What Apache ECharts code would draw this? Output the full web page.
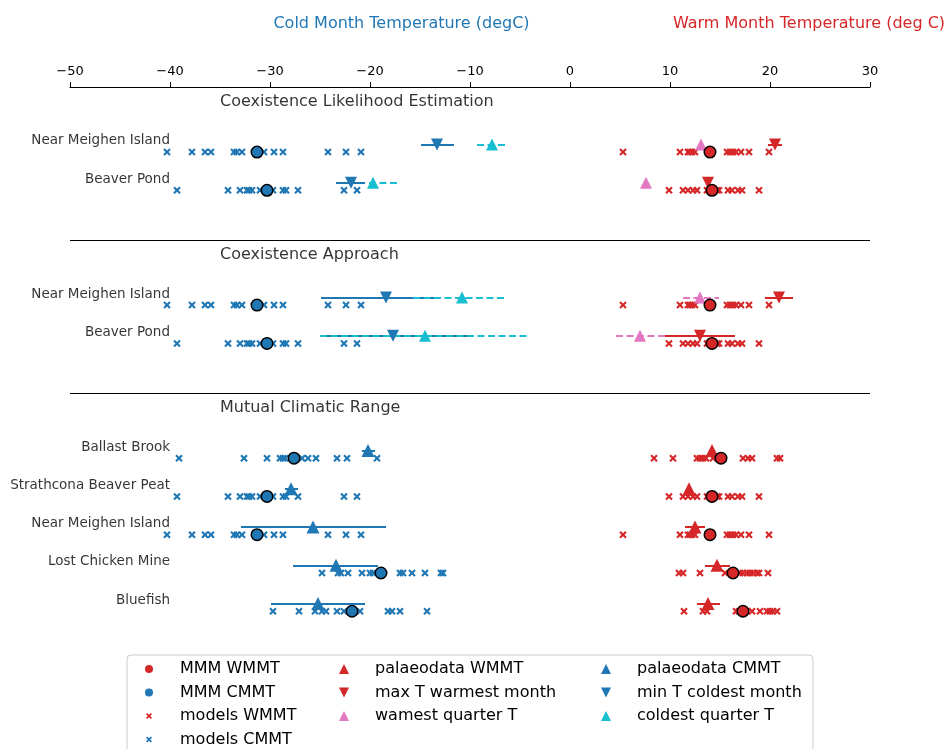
<!DOCTYPE html>
<html><head><meta charset="utf-8">
<script src="https://cdn.jsdelivr.net/npm/echarts@6/dist/echarts.min.js"></script>
<style>html,body{margin:0;padding:0;background:#fff}#c{width:951px;height:749px}</style>
</head><body><div id="c"></div>
<script>
// ---------------- data ----------------
const methods = ['Coexistence Likelihood Estimation', 'Coexistence Approach', 'Mutual Climatic Range'];
const cleSites = ['Near Meighen Island', 'Beaver Pond'];
const caSites = ['Near Meighen Island', 'Beaver Pond'];
const mcrSites = ['Ballast Brook', 'Strathcona Beaver Peat', 'Near Meighen Island', 'Lost Chicken Mine', 'Bluefish'];
const xTickValues = [-50, -40, -30, -20, -10, 0, 10, 20, 30];

const siteNames = ['Near Meighen Island', 'Beaver Pond', 'Ballast Brook', 'Strathcona Beaver Peat', 'Lost Chicken Mine', 'Bluefish'];

// individual model cold month mean temperatures
const cmmtNMI = [-40.3, -37.8, -36.5, -35.9, -33.6, -33.3, -32.8, -30.6, -29.6, -28.7, -24.2, -22.4, -20.9];
const cmmtBP  = [-39.3, -34.2, -33.0, -32.3, -32.1, -31.8, -31.0, -29.7, -28.7, -28.4, -27.2, -22.6, -21.3];
const cmmtBB  = [-39.1, -32.6, -30.3, -29.0, -28.7, -28.5, -26.8, -26.2, -25.4, -23.3, -22.3, -19.3];
const cmmtSBP = [-39.3, -34.2, -33.0, -32.3, -32.1, -31.8, -31.0, -29.7, -28.7, -28.4, -27.2, -22.6, -21.3];
const cmmtLCM = [-24.8, -23.2, -22.9, -22.2, -20.8, -20.0, -19.7, -17.0, -16.7, -15.8, -14.5, -12.9, -12.7];
const cmmtBF  = [-29.7, -27.1, -25.5, -24.8, -24.4, -23.3, -22.6, -21.0, -18.2, -17.8, -17.0, -14.3];
// individual model warm month mean temperatures
const wmmtNMI = [5.3, 11.0, 11.8, 12.0, 12.2, 12.5, 15.7, 16.0, 16.3, 16.6, 17.1, 17.9, 19.9];
const wmmtBP  = [9.9, 11.3, 11.8, 12.3, 12.7, 13.7, 14.7, 14.9, 15.8, 16.2, 16.8, 17.2, 18.9];
const wmmtBB  = [8.4, 10.3, 12.7, 13.0, 13.3, 13.6, 14.3, 17.3, 17.8, 18.2, 20.7, 21.0];
const wmmtSBP = [9.9, 11.3, 11.8, 12.3, 12.7, 13.7, 14.7, 14.9, 15.8, 16.2, 16.8, 17.2, 18.9];
const wmmtLCM = [10.9, 11.3, 13.0, 15.5, 17.0, 17.3, 17.7, 18.0, 18.3, 18.7, 18.9, 19.8];
const wmmtBF  = [11.4, 13.3, 13.7, 16.6, 16.9, 17.7, 18.2, 19.0, 19.7, 20.0, 20.3, 20.7];
// multi-model means (same order as siteNames)
const mmmCMMT = [-31.3, -30.3, -27.6, -30.3, -18.9, -21.8];
const mmmWMMT = [14.0, 14.2, 15.1, 14.2, 16.3, 17.3];

// palaeodata: [estimate, low, high]
const cleMinTCold = [[-13.3, -14.9, -11.6], [-21.9, -23.4, -20.5]];
const cleColdQ    = [[-7.8, -9.3, -6.5], [-19.7, -20.1, -17.3]];
const cleMaxTWarm = [[20.5, 19.8, 21.2], [13.8, null, null]];
const cleWarmQ    = [[13.1, null, null], [7.6, null, null]];
const caMinTCold  = [[-18.4, -24.9, -13.0], [-17.7, -25.0, -10.3]];
const caColdQ     = [[-10.8, -15.7, -6.3], [-14.5, -25.0, -4.0]];
const caMaxTWarm  = [[20.9, 19.5, 22.3], [13.0, 9.5, 16.5]];
const caWarmQ     = [[13.0, 11.3, 14.9], [7.0, 4.6, 9.5]];
const mcrPalaeoCMMT = [[-20.2, -20.8, -19.5], [-27.9, -28.5, -27.2], [-25.7, -32.9, -18.4], [-23.4, -27.7, -19.2], [-25.2, -29.9, -20.5]];
const mcrPalaeoWMMT = [[14.2, null, null], [11.9, null, null], [12.5, 11.5, 13.5], [14.7, 13.5, 16.0], [13.8, 12.7, 15.0]];

// ---------------- layout helpers ----------------
const modelsC = [cmmtNMI, cmmtBP, cmmtBB, cmmtSBP, cmmtLCM, cmmtBF];
const modelsW = [wmmtNMI, wmmtBP, wmmtBB, wmmtSBP, wmmtLCM, wmmtBF];
const sections = [[methods[0], cleSites], [methods[1], caSites], [methods[2], mcrSites]];
const starts = [];
let acc = 0;
sections.forEach(([t, sites]) => { starts.push(acc); acc += sites.length + 2; });
const MARK_OFF = -0.2, LABEL_OFF = -0.29, TITLE_OFF = -1.31, DIV_OFF = 0.3;
const rowOf = (sec, i) => starts[sec] + i;

const BLUE = '#1f77b4', RED = '#d62728', PINK = '#e377c2', CYAN = '#17becf';
const FONT = 'DejaVu Sans';
const xSym = 'path://M0,2 L2,0 L5,3 L8,0 L10,2 L7,5 L10,8 L8,10 L5,7 L2,10 L0,8 L3,5 Z';
const upTri = 'path://M5,0 L10,10 L0,10 Z';
const downTri = 'path://M0,0 L10,0 L5,10 Z';

const crossC = [], crossW = [], circC = [], circW = [], siteLabels = [], titleLabels = [], dividers = [];
sections.forEach(([title, sites], k) => {
  titleLabels.push({ value: [-35, starts[k] + TITLE_OFF], name: title });
  if (k < sections.length - 1) dividers.push({ coords: [[-50, starts[k] + sites.length + DIV_OFF], [30, starts[k] + sites.length + DIV_OFF]] });
  sites.forEach((site, i) => {
    const r = rowOf(k, i), j = siteNames.indexOf(site);
    modelsC[j].forEach(v => crossC.push([v, r]));
    modelsW[j].forEach(v => crossW.push([v, r]));
    circC.push([mmmCMMT[j], r]);
    circW.push([mmmWMMT[j], r]);
    siteLabels.push({ value: [-40, r + LABEL_OFF], name: site });
  });
});

function pts(list) {
  const out = [];
  list.forEach(([arr, sec]) => arr.forEach((d, i) => out.push([d[0], rowOf(sec, i) + MARK_OFF])));
  return out;
}
function bars(list) {
  const out = [];
  list.forEach(([arr, sec]) => arr.forEach((d, i) => {
    if (d[1] !== null && d[2] !== null) out.push({ coords: [[d[1], rowOf(sec, i) + MARK_OFF], [d[2], rowOf(sec, i) + MARK_OFF]] });
  }));
  return out;
}
function barSeries(data, color, dashed) {
  return { type: 'lines', coordinateSystem: 'cartesian2d', polyline: false, silent: true, data,
    lineStyle: { color, width: 2, opacity: 1, type: dashed ? [7, 3.5] : 'solid' }, symbol: ['none', 'none'] };
}
function markSeries(name, data, symbol, color, size) {
  return { name, type: 'scatter', data, symbol, symbolSize: size, silent: true,
    itemStyle: { color, opacity: 1 } };
}

const series = [
  barSeries(bars([[cleMinTCold, 0], [caMinTCold, 1]]), BLUE, false),
  barSeries(bars([[mcrPalaeoCMMT, 2]]), BLUE, false),
  barSeries(bars([[cleColdQ, 0], [caColdQ, 1]]), CYAN, true),
  barSeries(bars([[cleMaxTWarm, 0], [caMaxTWarm, 1]]), RED, false),
  barSeries(bars([[mcrPalaeoWMMT, 2]]), RED, false),
  barSeries(bars([[cleWarmQ, 0], [caWarmQ, 1]]), PINK, true),
  { type: 'lines', coordinateSystem: 'cartesian2d', silent: true, data: dividers,
    lineStyle: { color: '#000', width: 1, opacity: 1 }, symbol: ['none', 'none'] },
  markSeries('models WMMT', crossW, xSym, RED, 7.5),
  markSeries('models CMMT', crossC, xSym, BLUE, 7.5),
  markSeries('palaeodata WMMT', pts([[mcrPalaeoWMMT, 2]]), upTri, RED, 13),
  markSeries('max T warmest month', pts([[cleMaxTWarm, 0], [caMaxTWarm, 1]]), downTri, RED, 12),
  markSeries('wamest quarter T', pts([[cleWarmQ, 0], [caWarmQ, 1]]), upTri, PINK, 12),
  markSeries('palaeodata CMMT', pts([[mcrPalaeoCMMT, 2]]), upTri, BLUE, 13),
  markSeries('min T coldest month', pts([[cleMinTCold, 0], [caMinTCold, 1]]), downTri, BLUE, 12),
  markSeries('coldest quarter T', pts([[cleColdQ, 0], [caColdQ, 1]]), upTri, CYAN, 12),
  { name: 'MMM WMMT', type: 'scatter', data: circW, symbol: 'circle', symbolSize: 11.5, silent: true,
    itemStyle: { color: RED, borderColor: '#000', borderWidth: 1.5, opacity: 1 } },
  { name: 'MMM CMMT', type: 'scatter', data: circC, symbol: 'circle', symbolSize: 11.5, silent: true,
    itemStyle: { color: BLUE, borderColor: '#000', borderWidth: 1.5, opacity: 1 } },
  { type: 'scatter', data: siteLabels, symbolSize: 0, silent: true,
    label: { show: true, position: 'left', distance: 0, formatter: '{b}', fontSize: 13.5, color: '#000', fontFamily: FONT } },
  { type: 'scatter', data: titleLabels, symbolSize: 0, silent: true,
    label: { show: true, position: 'right', distance: 0, formatter: '{b}', fontSize: 16, color: '#000', fontFamily: FONT } }
];

// legend: the layout box starts at the icon's left edge (icon centred in a 52px slot)
function legend(data, iconCenterX, top, iconSize) {
  return { data, left: iconCenterX - iconSize / 2, top, orient: 'vertical', padding: 0, itemGap: 7.5,
    itemWidth: 52, itemHeight: iconSize, selectedMode: false, itemStyle: { borderWidth: 0 },
    textStyle: { fontSize: 16, color: '#000', fontFamily: FONT } };
}

const chart = echarts.init(document.getElementById('c'), null, { renderer: 'canvas' });
chart.setOption({
  animation: false,
  backgroundColor: '#fff',
  textStyle: { fontFamily: FONT },
  grid: { left: 70, right: 81, top: 87, height: 574, outerBoundsMode: 'none', containLabel: false },
  xAxis: {
    type: 'value', position: 'top', min: xTickValues[0], max: xTickValues[xTickValues.length - 1], interval: 10,
    axisLine: { show: true, onZero: false, lineStyle: { color: '#000', width: 1 } },
    axisTick: { show: true, inside: false, length: 5, lineStyle: { color: '#000', width: 1 } },
    axisLabel: { show: true, margin: 9, fontSize: 13, color: '#000', fontFamily: FONT,
      formatter: v => String(v).replace('-', '\u2212') },
    splitLine: { show: false }
  },
  yAxis: { type: 'value', inverse: true, min: -1.7, max: 13.3, show: false, splitLine: { show: false } },
  legend: [
    legend(['MMM WMMT', 'MMM CMMT'], 149, 661, 8),
    legend(['models WMMT', 'models CMMT'], 149, 708, 6),
    legend(['palaeodata WMMT', 'max T warmest month', 'wamest quarter T'], 344, 661, 10),
    legend(['palaeodata CMMT', 'min T coldest month', 'coldest quarter T'], 606, 661, 10)
  ],
  graphic: [
    { type: 'rect', z: 0, shape: { x: 127, y: 655, width: 686, height: 120, r: 4 },
      style: { fill: 'rgba(255,255,255,0.8)', stroke: '#cccccc', lineWidth: 1 } },
    { type: 'text', x: 401.5, y: 24, style: { text: 'Cold Month Temperature (degC)', fill: BLUE,
      font: '16px "DejaVu Sans"', align: 'center', verticalAlign: 'middle' } },
    { type: 'text', x: 809, y: 24, style: { text: 'Warm Month Temperature (deg C)', fill: RED,
      font: '16px "DejaVu Sans"', align: 'center', verticalAlign: 'middle' } }
  ],
  series
});
</script>
</body></html>
